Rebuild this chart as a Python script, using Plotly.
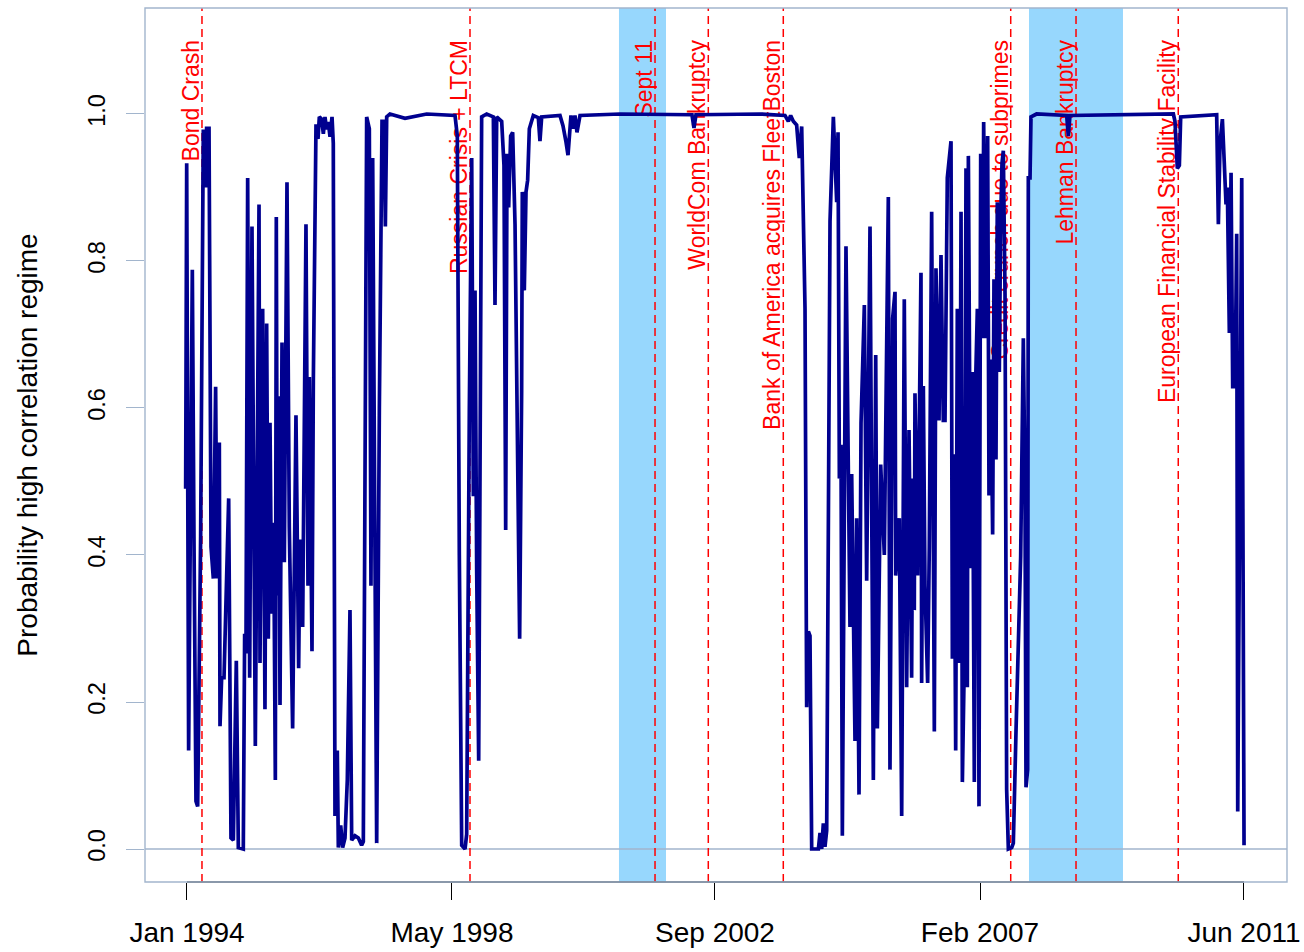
import plotly.graph_objects as go

# ---- data (decimal years, probability) ----
years = [
    1993.978, 1993.995, 1994.027, 1994.066, 1994.088, 1994.115, 1994.148, 1994.176, 1994.225, 1994.269,
    1994.297, 1994.324, 1994.346, 1994.363, 1994.396, 1994.434, 1994.472, 1994.494, 1994.533, 1994.544,
    1994.571, 1994.610, 1994.687, 1994.725, 1994.764, 1994.813, 1994.846, 1994.928, 1994.950, 1994.972,
    1995.000, 1995.033, 1995.071, 1995.126, 1995.154, 1995.187, 1995.203, 1995.247, 1995.285, 1995.313,
    1995.340, 1995.368, 1995.395, 1995.428, 1995.456, 1995.472, 1995.489, 1995.511, 1995.533, 1995.566,
    1995.604, 1995.648, 1995.686, 1995.741, 1995.796, 1995.840, 1995.862, 1995.906, 1995.961, 1995.994,
    1996.016, 1996.060, 1996.082, 1996.126, 1996.159, 1996.181, 1996.219, 1996.247, 1996.274, 1996.302,
    1996.329, 1996.357, 1996.390, 1996.411, 1996.439, 1996.477, 1996.494, 1996.533, 1996.565, 1996.604,
    1996.642, 1996.686, 1996.714, 1996.769, 1996.824, 1996.878, 1996.906, 1996.961, 1997.005, 1997.032,
    1997.060, 1997.126, 1997.170, 1997.214, 1997.247, 1997.269, 1997.291, 1997.345, 1997.593, 1997.950,
    1998.417, 1998.455, 1998.488, 1998.527, 1998.582, 1998.609, 1998.653, 1998.692, 1998.719, 1998.747,
    1998.774, 1998.807, 1998.856, 1998.939, 1999.049, 1999.076, 1999.104, 1999.186, 1999.224, 1999.252,
    1999.274, 1999.301, 1999.334, 1999.367, 1999.406, 1999.444, 1999.482, 1999.515, 1999.526, 1999.559,
    1999.587, 1999.614, 1999.642, 1999.707, 1999.790, 1999.817, 1999.845, 2000.147, 2000.196, 2000.246,
    2000.279, 2000.328, 2000.361, 2000.394, 2000.427, 2000.477, 2001.136, 2002.322, 2002.355, 2002.388,
    2003.443, 2003.855, 2003.910, 2003.948, 2003.992, 2004.047, 2004.091, 2004.130, 2004.185, 2004.212,
    2004.240, 2004.267, 2004.295, 2004.350, 2004.405, 2004.432, 2004.460, 2004.487, 2004.514, 2004.542,
    2004.597, 2004.652, 2004.707, 2004.729, 2004.751, 2004.778, 2004.800, 2004.860, 2004.899, 2004.926,
    2004.954, 2005.009, 2005.036, 2005.075, 2005.108, 2005.163, 2005.201, 2005.256, 2005.311, 2005.350,
    2005.377, 2005.432, 2005.492, 2005.558, 2005.585, 2005.629, 2005.668, 2005.679, 2005.739, 2005.778,
    2005.821, 2005.860, 2005.899, 2005.942, 2005.959, 2005.986, 2005.997, 2006.041, 2006.096, 2006.107,
    2006.135, 2006.162, 2006.206, 2006.233, 2006.272, 2006.316, 2006.343, 2006.393, 2006.426, 2006.464,
    2006.492, 2006.530, 2006.591, 2006.613, 2006.640, 2006.668, 2006.695, 2006.728, 2006.756, 2006.778,
    2006.811, 2006.838, 2006.860, 2006.877, 2006.915, 2006.943, 2006.975, 2006.997, 2007.025, 2007.052,
    2007.080, 2007.113, 2007.129, 2007.162, 2007.195, 2007.217, 2007.244, 2007.277, 2007.299, 2007.332,
    2007.354, 2007.387, 2007.409, 2007.431, 2007.453, 2007.481, 2007.508, 2007.536, 2007.591, 2007.618,
    2007.662, 2007.700, 2007.739, 2007.783, 2007.810, 2007.827, 2007.854, 2007.865, 2007.893, 2007.909,
    2008.002, 2008.497, 2008.524, 2008.552, 2010.255, 2010.282, 2010.321, 2010.354, 2010.376, 2010.969,
    2010.997, 2011.024, 2011.063, 2011.096, 2011.123, 2011.145, 2011.178, 2011.206, 2011.233, 2011.272,
    2011.299, 2011.316, 2011.382, 2011.420,
]
prob = [
    0.49, 0.933, 0.134, 0.517, 0.788, 0.425, 0.065, 0.058, 0.425, 0.979,
    0.90, 0.983, 0.90, 0.983, 0.411, 0.368, 0.629, 0.368, 0.553, 0.167,
    0.233, 0.233, 0.477, 0.015, 0.012, 0.256, 0.002, 0.0, 0.293, 0.266,
    0.913, 0.233, 0.847, 0.14, 0.47, 0.877, 0.253, 0.735, 0.19, 0.715,
    0.286, 0.58, 0.32, 0.444, 0.094, 0.86, 0.345, 0.616, 0.196, 0.689,
    0.39, 0.907, 0.438, 0.164, 0.59, 0.246, 0.421, 0.302, 0.85, 0.358,
    0.642, 0.269, 0.636, 0.986, 0.966, 0.996, 0.993, 0.973, 0.996, 0.979,
    0.989, 0.969, 0.996, 0.96, 0.045, 0.134, 0.002, 0.032, 0.002, 0.015,
    0.094, 0.325, 0.012, 0.018, 0.015, 0.005, 0.01, 0.996, 0.98, 0.358,
    0.94, 0.008, 0.60, 0.99, 0.99, 0.847, 0.996, 1.0, 0.994, 1.0,
    0.998, 0.97, 0.40, 0.005, 0.0, 0.02, 0.60, 0.94, 0.48, 0.76,
    0.38, 0.12, 0.996, 1.0, 0.996, 0.74, 0.996, 0.99, 0.93, 0.434,
    0.946, 0.873, 0.97, 0.975, 0.85, 0.55, 0.286, 0.623, 0.894, 0.76,
    0.894, 0.91, 0.98, 0.998, 0.995, 0.963, 0.996, 0.998, 0.984, 0.962,
    0.944, 0.998, 0.98, 0.998, 0.975, 0.998, 1.0, 0.999, 0.981, 0.999,
    1.0, 0.998, 0.99, 0.998, 0.99, 0.985, 0.94, 0.983, 0.735, 0.193,
    0.296, 0.29, 0.0, 0.0, 0.0, 0.022, 0.0, 0.035, 0.003, 0.025,
    0.854, 0.996, 0.88, 0.975, 0.504, 0.55, 0.018, 0.82, 0.504, 0.302,
    0.51, 0.147, 0.45, 0.074, 0.58, 0.74, 0.365, 0.847, 0.094, 0.672,
    0.164, 0.523, 0.40, 0.887, 0.108, 0.722, 0.758, 0.372, 0.45, 0.045,
    0.748, 0.22, 0.57, 0.233, 0.504, 0.325, 0.62, 0.372, 0.784, 0.226,
    0.63, 0.358, 0.226, 0.411, 0.867, 0.16, 0.79, 0.583, 0.808, 0.583,
    0.583, 0.913, 0.963, 0.259, 0.537, 0.134, 0.735, 0.253, 0.867, 0.091,
    0.259, 0.926, 0.22, 0.943, 0.382, 0.649, 0.091, 0.636, 0.735, 0.058,
    0.946, 0.695, 0.989, 0.695, 0.97, 0.481, 0.666, 0.428, 0.775, 0.53,
    0.88, 0.649, 0.854, 0.933, 0.95, 0.755, 0.081, 0.0, 0.002, 0.008,
    0.16, 0.289, 0.398, 0.695, 0.49, 0.084, 0.108, 0.913, 0.913, 0.996,
    1.0, 0.998, 0.97, 0.998, 1.0, 0.99, 0.926, 0.93, 0.996, 0.999,
    0.85, 0.96, 0.993, 0.93, 0.877, 0.90, 0.702, 0.92, 0.629, 0.629,
    0.837, 0.051, 0.913, 0.005,
]

tick_years = [1994.0, 1998.367, 2002.701, 2007.069, 2011.419]
tick_labels = ["Jan 1994", "May 1998", "Sep 2002", "Feb 2007", "Jun 2011"]

y_ticks = [0.0, 0.2, 0.4, 0.6, 0.8, 1.0]
y_tick_labels = ["0.0", "0.2", "0.4", "0.6", "0.8", "1.0"]

event_years = [1994.247, 1998.664, 2001.713, 2002.591, 2003.827, 2007.575, 2008.651, 2010.336]
event_labels = [
    "Bond Crash",
    "Russian Crisis + LTCM",
    "Sept 11",
    "WorldCom Bankruptcy",
    "Bank of America acquires FleetBoston",
    "Credit crunch due to subprimes",
    "Lehman Bankruptcy",
    "European Financial Stability Facility",
]
label_top = 1.1007   # value at which the rotated labels end

recession_start = [2001.119, 2007.876]
recession_end = [2001.894, 2009.425]

# ---- styling ----
FONT = "Liberation Sans, Arial, Helvetica, sans-serif"
BOX = "#A2B5CD"
LINE = "#00008F"
SHADE = "#97D7FD"

x_range = [1993.308, 2012.128]
y_range = [-0.0449, 1.1442]

fig = go.Figure()

fig.add_trace(go.Scatter(
    x=years, y=prob, mode="lines",
    line=dict(color=LINE, width=3.7),
    hoverinfo="skip", showlegend=False,
))

shapes = []
for s, e in zip(recession_start, recession_end):
    shapes.append(dict(type="rect", xref="x", yref="paper", x0=s, x1=e, y0=0, y1=1,
                       fillcolor=SHADE, line=dict(width=0), layer="below"))
shapes.append(dict(type="line", xref="paper", yref="y", x0=0, x1=1, y0=0, y1=0,
                   line=dict(color=BOX, width=1.6), layer="below"))
for ev in event_years:
    shapes.append(dict(type="line", xref="x", yref="paper", x0=ev, x1=ev, y0=0, y1=1,
                       line=dict(color="#FF0000", width=1.5, dash="8px,5px"), layer="below"))
# event labels drawn as shape labels so the data line passes over them (as in R)
for ev, lab in zip(event_years, event_labels):
    shapes.append(dict(
        type="line", xref="x", yref="y", x0=ev, x1=ev, y0=label_top, y1=label_top - 0.05,
        line=dict(width=0, color="rgba(0,0,0,0)"), layer="below",
        label=dict(text=lab, textangle=-90, textposition="start",
                   xanchor="right", yanchor="bottom", padding=0,
                   font=dict(family=FONT, size=23, color="#FF0000")),
    ))
# R-style x axis line spanning first to last tick
shapes.append(dict(type="line", xref="x", yref="paper", x0=tick_years[0], x1=tick_years[-1],
                   y0=0, y1=0, line=dict(color="black", width=1.4), layer="above"))
# plot box
shapes.append(dict(type="rect", xref="paper", yref="paper", x0=0, x1=1, y0=0, y1=1,
                   line=dict(color=BOX, width=1.4), fillcolor="rgba(0,0,0,0)", layer="above"))

fig.update_layout(
    width=1304, height=952,
    margin=dict(l=145, r=17, t=8, b=70),
    paper_bgcolor="white", plot_bgcolor="white",
    font=dict(family=FONT, color="black"),
    shapes=shapes,
    showlegend=False,
)

fig.update_xaxes(
    range=x_range, showgrid=False, zeroline=False, showline=False, automargin=False,
    tickmode="array", tickvals=tick_years, ticktext=tick_labels,
    ticks="outside", ticklen=17, tickwidth=1.4, tickcolor="black",
    tickfont=dict(family=FONT, size=28, color="black"),
    ticklabelstandoff=8,
)
fig.update_yaxes(
    range=y_range, showgrid=False, zeroline=False, showline=False, automargin=False,
    tickmode="array", tickvals=y_ticks, ticktext=y_tick_labels,
    ticks="outside", ticklen=18, tickwidth=1.4, tickcolor=BOX,
    tickangle=-90,
    tickfont=dict(family=FONT, size=23.5, color="black"),
    ticklabelstandoff=12,
    title=dict(text="Probability high correlation regime",
               font=dict(family=FONT, size=28, color="black"), standoff=37),
)

fig.write_html(
    "out.html",
    config={"displayModeBar": False},
    post_script="document.body.style.margin='0px';document.body.style.overflow='hidden';",
)
